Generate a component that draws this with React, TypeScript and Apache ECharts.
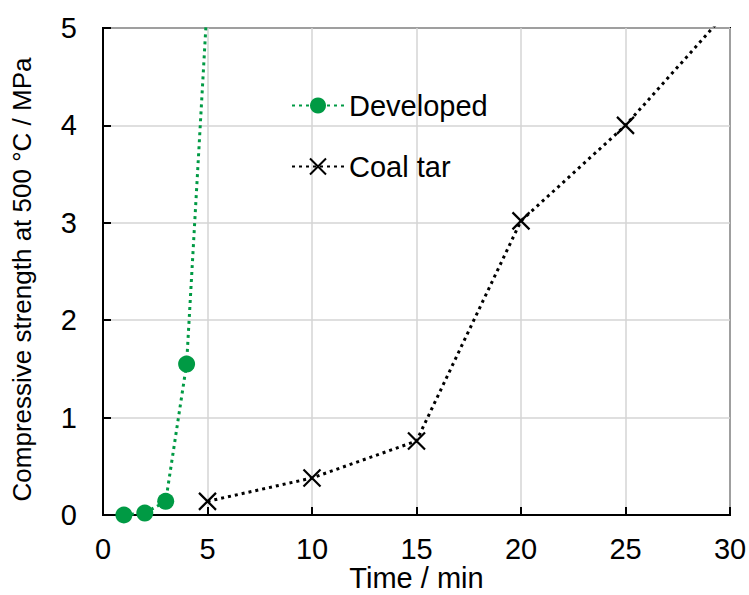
import React, { useEffect, useRef } from "react";
import * as echarts from "echarts";

const developedX = [1, 2, 3, 4, 5];
const developedY = [0.0, 0.02, 0.14, 1.55, 5.3];
const coalTarX = [5, 10, 15, 20, 25, 30];
const coalTarY = [0.14, 0.38, 0.76, 3.02, 4.0, 5.2];
const seriesNames = ["Developed", "Coal tar"];
const xTitle = "Time / min";
const yTitle = "Compressive strength at 500 °C / MPa";

const FONT = "Liberation Sans, Arial, sans-serif";

export default function App() {
  const ref = useRef<HTMLDivElement>(null);
  useEffect(() => {
    if (!ref.current) return;
    const chart = echarts.init(ref.current, null, { renderer: "svg" });
    const cross = "path://M0,0L10,10M10,0L0,10";
    chart.setOption({
      animation: false,
      backgroundColor: "#ffffff",
      textStyle: { fontFamily: FONT },
      grid: {
        left: 103, top: 28, right: 19, bottom: 80,
        outerBoundsMode: "none",
        containLabel: false,
        show: true, borderColor: "#000", borderWidth: 2, backgroundColor: "transparent",
      },
      legend: {
        orient: "vertical",
        left: 286,
        top: 86,
        itemWidth: 52,
        itemHeight: 20,
        itemGap: 32,
        textStyle: { fontSize: 29, color: "#000", fontFamily: FONT },
        data: seriesNames,
      },
      xAxis: {
        type: "value",
        min: 0,
        max: 30,
        interval: 5,
        name: xTitle,
        nameLocation: "middle",
        nameGap: 49,
        nameMoveOverlap: false,
        nameTextStyle: { fontSize: 29, lineHeight: 28, color: "#000", fontFamily: FONT },
        axisLine: { show: true, onZero: false, lineStyle: { color: "#000", width: 2 } },
        axisTick: { show: true, inside: true, length: 8, lineStyle: { color: "#000", width: 2 } },
        axisLabel: { fontSize: 29, color: "#000", margin: 19, fontFamily: FONT },
        splitLine: { show: true, lineStyle: { color: "#d4d4d4", width: 1.5 } },
      },
      yAxis: {
        type: "value",
        min: 0,
        max: 5,
        interval: 1,
        name: yTitle,
        nameLocation: "middle",
        nameGap: 68,
        nameMoveOverlap: false,
        nameTextStyle: { fontSize: 26, color: "#000", fontFamily: FONT, padding: [0, 16, 0, 0] },
        axisLine: { show: true, onZero: false, lineStyle: { color: "#000", width: 2 } },
        axisTick: { show: true, inside: true, length: 8, lineStyle: { color: "#000", width: 2 } },
        axisLabel: { fontSize: 29, color: "#000", margin: 26, fontFamily: FONT },
        splitLine: { show: true, lineStyle: { color: "#d4d4d4", width: 1.5 } },
      },
      series: [
        {
          name: seriesNames[0],
          type: "line",
          data: developedX.map((x, i) => [x, developedY[i]]),
          symbol: "circle",
          symbolSize: 17,
          clip: true,
          itemStyle: { color: "#009a44" },
          lineStyle: { color: "#009a44", width: 3, type: [3, 4] },
          z: 3,
        },
        {
          name: seriesNames[1],
          type: "line",
          data: coalTarX.map((x, i) => [x, coalTarY[i]]),
          symbol: cross,
          symbolSize: 17,
          clip: true,
          itemStyle: { color: "none", borderColor: "#000", borderWidth: 2.2 },
          lineStyle: { color: "#000", width: 3, type: [3, 4] },
          z: 2,
        },
      ],
    });
    return () => chart.dispose();
  }, []);
  return <div ref={ref} style={{ width: 749, height: 595, position: "absolute", left: 0, top: 0 }} />;
}
